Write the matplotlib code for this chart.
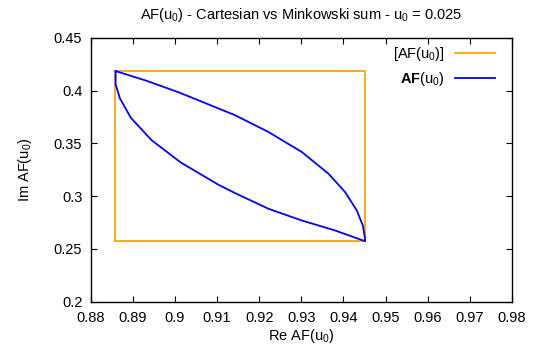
import matplotlib
matplotlib.use("Agg")
import matplotlib.pyplot as plt
from matplotlib.ticker import MultipleLocator, FuncFormatter

plt.rcParams["font.family"] = ["Liberation Sans", "DejaVu Sans"]
plt.rcParams["mathtext.fontset"] = "custom"
plt.rcParams["mathtext.rm"] = "Liberation Sans"
plt.rcParams["mathtext.it"] = "Liberation Sans:italic"
plt.rcParams["mathtext.bf"] = "Liberation Sans:bold"
FS = 10.5
plt.rcParams["font.size"] = FS

# Cartesian (interval) bounds of AF(u0)
rect_re = [0.8859, 0.9452]
rect_im = [0.2573, 0.4184]

# Minkowski-sum boundary: upper arc then lower arc back to the start
upper_re = [0.88594, 0.8933, 0.90121, 0.91428, 0.92219, 0.93012, 0.93644,
            0.94040, 0.94318, 0.94461, 0.94515, 0.94515]
upper_im = [0.41842, 0.4092, 0.39782, 0.37664, 0.36078, 0.34178, 0.32127,
            0.30380, 0.28642, 0.27217, 0.25954, 0.25726]
lower_re = [0.94515, 0.93803, 0.93012, 0.92219, 0.91428, 0.91031, 0.90145,
            0.89449, 0.88957, 0.88696, 0.88594, 0.88594]
lower_im = [0.25726, 0.26743, 0.27692, 0.28803, 0.30285, 0.31083, 0.33172,
            0.35290, 0.37407, 0.39250, 0.40579, 0.41842]

fig = plt.figure(figsize=(5.33, 3.51), dpi=100)
ax = fig.add_axes([0.170, 0.1405, 0.7905, 0.752])

box_x = [rect_re[0], rect_re[1], rect_re[1], rect_re[0], rect_re[0]]
box_y = [rect_im[0], rect_im[0], rect_im[1], rect_im[1], rect_im[0]]
ax.plot(box_x, box_y, color="#FFA500", lw=1.3, label="[AF(u$_0$)]")
ax.plot(upper_re + lower_re[1:], upper_im + lower_im[1:], color="#0000FF",
        lw=1.3, label=r"$\mathbf{AF}$(u$_0$)", solid_joinstyle="round")

ax.set_xlim(0.88, 0.98)
ax.set_ylim(0.2, 0.45)
ax.xaxis.set_major_locator(MultipleLocator(0.01))
ax.yaxis.set_major_locator(MultipleLocator(0.05))
fmt = FuncFormatter(lambda v, p: f"{v:.2f}".rstrip("0").rstrip("."))
ax.xaxis.set_major_formatter(fmt)
ax.yaxis.set_major_formatter(fmt)
ax.tick_params(direction="in", top=True, right=True, length=4, width=0.8,
               labelsize=FS)
ax.tick_params(axis="x", pad=6.5)
ax.tick_params(axis="y", pad=6)
for s in ax.spines.values():
    s.set_linewidth(1.0)

ax.set_xlabel("Re AF(u$_0$)", fontsize=FS, labelpad=2)
ax.set_ylabel("Im AF(u$_0$)", fontsize=FS, labelpad=14)
ax.set_title("AF(u$_0$) - Cartesian vs Minkowski sum - u$_0$ = 0.025",
             fontsize=FS, pad=13.5)

ax.legend(loc="upper right", bbox_to_anchor=(0.985, 1.01), frameon=False,
          markerfirst=False, handlelength=2.75, handletextpad=0.7,
          labelspacing=0.45, fontsize=FS, borderaxespad=0.3)

fig.savefig("out.png", dpi=100)
